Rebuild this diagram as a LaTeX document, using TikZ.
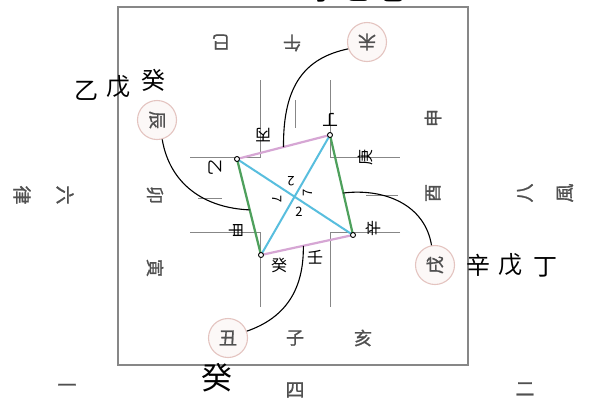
\documentclass[tikz,border=0pt]{standalone}
\usepackage{fontspec}
\newfontfamily\cjk{Noto Sans CJK SC}
\newfontfamily\cjkh[FakeBold=1.2]{Noto Sans CJK SC}
\usetikzlibrary{calc}
\definecolor{ringc}{RGB}{228,196,192}
\definecolor{prtc}{RGB}{80,80,80}
\definecolor{gridc}{RGB}{135,135,135}
\definecolor{edgeg}{RGB}{78,160,92}
\definecolor{edgep}{RGB}{214,166,212}
\definecolor{diagc}{RGB}{88,190,222}
\begin{document}
\begin{tikzpicture}[x=1pt,y=-1pt,
  prt/.style={font=\cjkh\fontsize{18}{18}\selectfont,text=prtc,inner sep=0pt},
  ring/.style={circle,draw=ringc,line width=1.1pt,fill=ringc!12,minimum size=39pt,inner sep=0pt},
  outer/.style={font=\cjkh\fontsize{19}{19}\selectfont,text=prtc,inner sep=0pt},
  hand/.style={font=\cjk\fontsize{24}{24}\selectfont,text=black,inner sep=0pt},
  vlab/.style={font=\cjk\fontsize{16}{16}\selectfont,text=black,inner sep=0pt},
  num/.style={font=\cjk\fontsize{13}{13}\selectfont,text=black,inner sep=0pt},
  gridline/.style={draw=gridc,line width=0.9pt},
  boxline/.style={draw=gridc,line width=1.2pt},
  vtx/.style={circle,draw=black,fill=white,line width=0.9pt,inner sep=0pt,minimum size=5pt},
  greenedge/.style={draw=edgeg,line width=2.2pt},
  pinkedge/.style={draw=edgep,line width=2.2pt},
  diag/.style={draw=diagc,line width=2pt},
  link/.style={draw=black,line width=1.1pt}
]
\useasboundingbox (0,0) rectangle (600,400);
\clip (0,0) rectangle (600,400);
\fill[white] (0,0) rectangle (600,400);

% outer box
\draw[boxline] (118,7) rectangle (468,365);

% cross-shaped grid
\draw[gridline] (260,80) -- (260,157) -- (190,157);
\draw[gridline] (330,80) -- (330,157) -- (400,157);
\draw[gridline] (190,232) -- (260,232) -- (260,307);
\draw[gridline] (400,232) -- (330,232) -- (330,307);
\draw[gridline] (295,100) -- (295,128);
\draw[gridline] (198,198) -- (222,198);
\draw[gridline] (366,195) -- (398,195);

% quadrilateral vertices
\coordinate (A) at (237,159);
\coordinate (B) at (330,135);
\coordinate (C) at (353,235);
\coordinate (D) at (261,255);

\draw[diag] (A) -- (C);
\draw[diag] (B) -- (D);
\draw[pinkedge] (A) -- (B);
\draw[pinkedge] (D) -- (C);
\draw[greenedge] (A) -- (D);
\draw[greenedge] (B) -- (C);

% rings
\node[ring] (wei) at (367,42) {};
\node[ring] (chen) at (157,120) {};
\node[ring] (xu) at (435,265) {};
\node[ring] (chou) at (228,338) {};

% connecting curves
\coordinate (e1) at ($(A)!0.5!(B)$);
\coordinate (e2) at ($(A)!0.53!(D)$);
\coordinate (e3) at ($(B)!0.58!(C)$);
\coordinate (e4) at ($(D)!0.46!(C)$);
\draw[link] (wei.200) .. controls (305,58) and (283,85) .. (e1);
\draw[link] (chen.285) .. controls (170,185) and (205,208) .. (e2);
\draw[link] (xu.100) .. controls (425,205) and (385,188) .. (e3);
\draw[link] (chou.20) .. controls (285,318) and (304,290) .. (e4);

\node[vtx] (va) at (A) {};
\node[vtx] (vb) at (B) {};
\node[vtx] (vc) at (C) {};
\node[vtx] (vd) at (D) {};

% printed branch labels
\node[prt,rotate=180] (si) at (221,42) {巳};
\node[prt,rotate=180] (wu) at (292,43) {午};
\node[prt,rotate=180] (weit) at (wei) {未};
\node[prt,rotate=90] (shen) at (433,118) {申};
\node[prt,rotate=90] (you) at (433,193) {酉};
\node[prt,rotate=90] (xut) at (xu) {戌};
\node[prt] (chout) at (chou) {丑};
\node[prt] (zi) at (295,338) {子};
\node[prt] (hai) at (363,338) {亥};
\node[prt,rotate=-90] (chent) at (chen) {辰};
\node[prt,rotate=-90] (mao) at (155,195) {卯};
\node[prt,rotate=-90] (yin) at (155,268) {寅};

% outer printed labels
\node[outer,rotate=-90] (liu) at (65,195) {六};
\node[outer,rotate=-90] (lv) at (22,195) {律};
\node[outer,rotate=90] (ba) at (525,193) {八};
\node[outer,rotate=90] (feng) at (565,193) {風};
\node[outer] (yi) at (67,388) {一};
\node[outer] (si4) at (295,390) {四};
\node[outer] (er) at (525,389) {二};

% handwritten labels
\node[hand] (h1) at (86,91) {乙};
\node[hand] (h2) at (118,87) {戊};
\node[hand] (h3) at (153,80) {癸};
\node[hand] (h4) at (478,265) {辛};
\node[hand] (h5) at (510,265) {戊};
\node[hand] (h6) at (545,267) {丁};
\node[hand,font=\cjk\fontsize{31}{31}\selectfont] (h7) at (217,378) {癸};
\node[hand] (t1) at (323,-8) {丁};
\node[hand] (t2) at (358,-8) {乙};
\node[hand] (t3) at (392,-8) {己};

% vertex labels
\node[vlab,rotate=180] (lding) at (330,120) {丁};
\node[vlab,rotate=180] (lbing) at (263,135) {丙};
\node[vlab,rotate=-90] (lyi) at (215,167) {乙};
\node[vlab,rotate=-90] (ljia) at (236,230) {甲};
\node[vlab,rotate=90] (lgeng) at (365,157) {庚};
\node[vlab,rotate=90] (lxin) at (373,228) {辛};
\node[vlab] (lren) at (315,257) {壬};
\node[vlab] (lgui) at (279,265) {癸};

% centre numbers
\node[num,rotate=180] (n1) at (291,181) {2};
\node[num,rotate=-90] (n2) at (277,199) {7};
\node[num,rotate=90] (n3) at (308,193) {7};
\node[num] (n4) at (299,212) {2};
\end{tikzpicture}
\end{document}
